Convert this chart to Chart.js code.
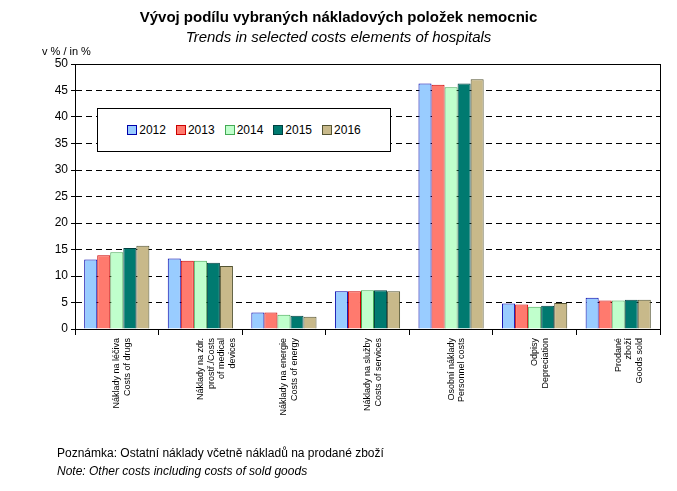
<!DOCTYPE html><html><head><meta charset="utf-8">
<script src="https://cdn.jsdelivr.net/npm/chart.js@4"></script>
<style>body{margin:0;font-family:Arial,"Liberation Sans",sans-serif;background:#fff}
#w{position:relative;width:677px;height:491px}
.t{position:absolute;left:0;width:677px;text-align:center}
.n{position:absolute;left:57px;font-size:12px}
#lg{position:absolute;left:97px;top:108px;width:292px;height:42px;border:1px solid #000;background:#fff;display:flex;align-items:center;justify-content:center;gap:10px;font-size:12px}
#lg span i{display:inline-block;width:8px;height:8px;border:1px solid;margin-right:2px;vertical-align:-1px}
</style></head><body><div id="w">
<canvas id="c" width="677" height="491" style="position:absolute;left:0;top:0"></canvas>
<div class="t" style="top:8px;font-size:15px;font-weight:bold">Vývoj podílu vybraných nákladových položek nemocnic</div>
<div class="t" style="top:28px;font-size:15px;font-style:italic">Trends in selected costs elements of hospitals</div>
<div style="position:absolute;left:42px;top:45px;font-size:11px">v % / in %</div>
<div class="n" style="top:446px">Poznámka: Ostatní náklady včetně nákladů na prodané zboží</div>
<div class="n" style="top:464px;font-style:italic">Note: Other costs including costs of sold goods</div>
<div id="lg"></div>
</div>
<script>
const categories=[["Náklady na léčiva","Costs of drugs"],["Náklady na zdr.","prostř./Costs","of medical","devices"],["Náklady na energie","Costs of energy"],["Náklady na služby","Costs of services"],["Osobní náklady","Personnel costs"],["Odpisy","Depreciation"],["Prodané","zboží","Goods sold"]];
const years=["2012","2013","2014","2015","2016"];
const v2012=[13.1,13.3,3.1,7.1,46.3,4.8,5.9];
const v2013=[13.9,12.9,3.1,7.1,46.1,4.6,5.4];
const v2014=[14.5,12.9,2.7,7.3,45.6,4.2,5.4];
const v2015=[15.3,12.5,2.5,7.3,46.3,4.4,5.5];
const v2016=[15.7,11.9,2.3,7.1,47.1,4.9,5.5];
const fills=["#99ccff","#ff7a6e","#c0ffcc","#007a70","#c8b98a"];
const borders=["#0000aa","#cc0000","#44aa55","#004040","#555533"];
const vals=[v2012,v2013,v2014,v2015,v2016];
document.getElementById('lg').innerHTML=years.map((y,i)=>`<span><i style="background:${fills[i]};border-color:${borders[i]}"></i>${y}</span>`).join('');
const frame={id:'frame',afterDraw(c){const a=c.chartArea,x=c.ctx;x.save();x.strokeStyle='#000';x.lineWidth=1;x.strokeRect(a.left+.5,a.top+.5,a.right-a.left,a.bottom-a.top);x.restore();}};
new Chart(document.getElementById('c'),{type:'bar',
data:{labels:categories,datasets:years.map((y,i)=>({label:y,data:vals[i],backgroundColor:fills[i],borderColor:borders[i],borderWidth:1}))},
options:{responsive:false,animation:false,layout:{padding:{top:64,right:17,bottom:47,left:0}},
plugins:{legend:{display:false},tooltip:{enabled:false}},
datasets:{bar:{categoryPercentage:0.78,barPercentage:1}},
scales:{
x:{offset:true,grid:{display:true,drawOnChartArea:false,color:'#000',tickLength:6,offset:true},border:{color:'#000'},
ticks:{minRotation:90,maxRotation:90,color:'#000',font:{size:9,family:'Arial'},autoSkip:false},afterFit(s){s.height=115;}},
y:{min:0,max:50,ticks:{stepSize:5,color:'#000',font:{size:12,family:'Arial'}},border:{color:'#000'},
grid:{color:'#000',tickLength:4},border:{dash:[6,4],color:'#000'},afterFit(s){s.width=75;}}}},
plugins:[frame]});
</script></body></html>
